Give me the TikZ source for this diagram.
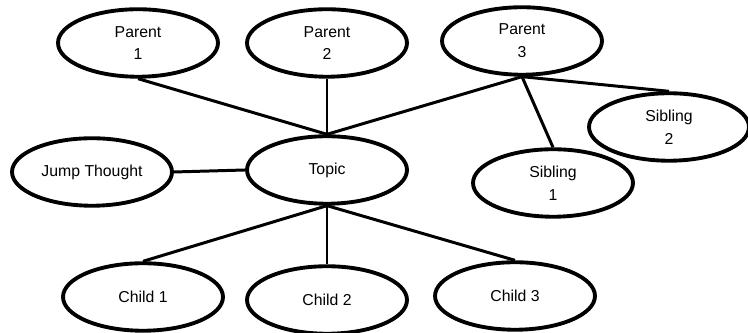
\documentclass[tikz,border=0pt]{standalone}
\usepackage{fontspec}
\setmainfont{Liberation Sans}
\usetikzlibrary{shapes.geometric}

\tikzset{
	bubble/.style={ellipse, draw, line width=2.2pt, minimum width=3.2cm, minimum height=1.35cm, inner sep=0pt, align=center, font=\fontsize{9}{13}\selectfont},
	link/.style={line width=1.7pt}
}

\begin{document}
\begin{tikzpicture}[x=0.02cm, y=0.02cm]
	\useasboundingbox (0, 0) rectangle (748, 333);

	\node[bubble] (parent1) at (138, 290) {Parent\\1};
	\node[bubble] (parent2) at (327, 290) {Parent\\2};
	\node[bubble] (parent3) at (522, 292) {Parent\\3};
	\node[bubble] (sibling2) at (669, 206) {Sibling\\2};
	\node[bubble] (sibling1) at (553, 150) {Sibling\\1};

	\node[bubble] (topic) at (327, 163) {Topic};
	\node[bubble] (jump) at (92, 161) {Jump Thought};

	\node[bubble] (child1) at (143, 36) {Child 1};
	\node[bubble] (child2) at (327, 33) {Child 2};
	\node[bubble] (child3) at (515, 37) {Child 3};

	\draw[link] (parent1.south) -- (topic.north);
	\draw[link] (parent2.south) -- (topic.north);
	\draw[link] (parent3.south) -- (topic.north);
	\draw[link] (parent3.south) -- (sibling1.north);
	\draw[link] (parent3.south) -- (sibling2.north);

	\draw[link] (jump.east) -- (topic.west);

	\draw[link] (topic.south) -- (child1.north);
	\draw[link] (topic.south) -- (child2.north);
	\draw[link] (topic.south) -- (child3.north);

\end{tikzpicture}
\end{document}
